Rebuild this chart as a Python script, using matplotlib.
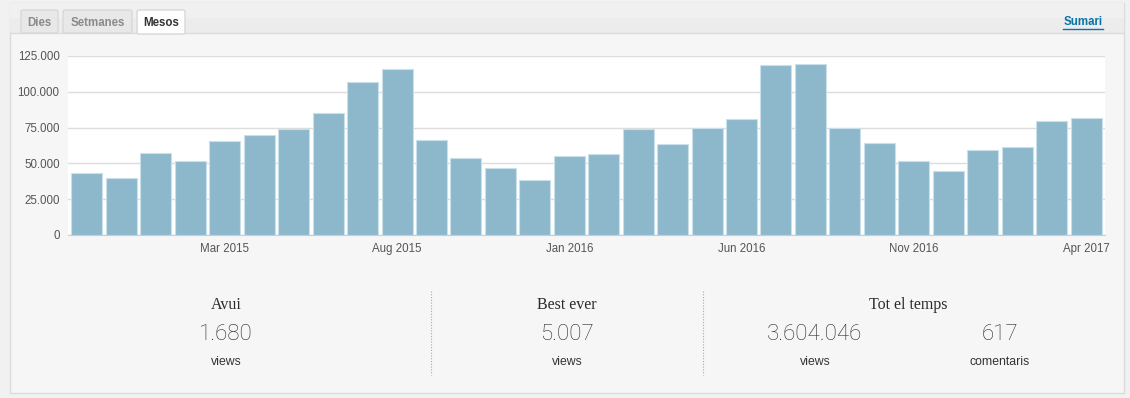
import matplotlib.pyplot as plt
from matplotlib.patches import Rectangle, FancyBboxPatch

# monthly views, Nov 2014 .. Apr 2017
months = ["Nov 2014", "Dec 2014", "Jan 2015", "Feb 2015", "Mar 2015", "Apr 2015",
          "May 2015", "Jun 2015", "Jul 2015", "Aug 2015", "Sep 2015", "Oct 2015",
          "Nov 2015", "Dec 2015", "Jan 2016", "Feb 2016", "Mar 2016", "Apr 2016",
          "May 2016", "Jun 2016", "Jul 2016", "Aug 2016", "Sep 2016", "Oct 2016",
          "Nov 2016", "Dec 2016", "Jan 2017", "Feb 2017", "Mar 2017", "Apr 2017"]
views = [43500, 40000, 57400, 51400, 65700, 69900, 73800, 85200, 106700, 116000,
         66000, 53900, 47000, 38200, 55300, 56700, 74300, 63400, 75000, 80800,
         118800, 119700, 74500, 64400, 51900, 44900, 59500, 61300, 79600, 81700]
shown_ticks = ["Mar 2015", "Aug 2015", "Jan 2016", "Jun 2016", "Nov 2016", "Apr 2017"]
y_ticks = [0, 25000, 50000, 75000, 100000, 125000]

tabs = ["Dies", "Setmanes", "Mesos"]
active_tab = "Mesos"

stat_titles = ["Avui", "Best ever", "Tot el temps"]
stat_values = ["1.680", "5.007", "3.604.046", "617"]
stat_units = ["views", "views", "views", "comentaris"]

W, H = 1130, 398
BAR = "#8db8cc"
SANS = ["Liberation Sans", "DejaVu Sans"]
SERIF = ["Liberation Serif", "DejaVu Serif"]

fig = plt.figure(figsize=(W / 100, H / 100), dpi=100)
fig.patch.set_facecolor("#f1f1f1")

# pixel-space background layer
bg = fig.add_axes([0, 0, 1, 1])
bg.set_xlim(0, W)
bg.set_ylim(H, 0)
bg.axis("off")

bg.add_patch(Rectangle((10, 3), 1114, 390, facecolor="#f6f6f6", edgecolor="#dcdcdc", lw=1))
bg.add_patch(Rectangle((10, 3), 1114, 30, facecolor="#ececec", edgecolor="none"))
bg.add_patch(Rectangle((10, 3), 1114, 15, facecolor="#f0f0f0", edgecolor="none"))
bg.plot([10, 1124], [33, 33], color="#dcdcdc", lw=1)

tab_x = [21, 63, 137]
tab_w = [37, 69, 48]
for name, x, w in zip(tabs, tab_x, tab_w):
    active = name == active_tab
    bg.add_patch(FancyBboxPatch((x, 10), w, 24 if active else 23,
                                boxstyle="round,pad=0,rounding_size=2",
                                facecolor="#ffffff" if active else "#e8e8e8",
                                edgecolor="#d8d8d8", lw=1, zorder=3))
    bg.text(x + w / 2, 22.5, name, ha="center", va="center", fontsize=8.3,
            fontweight="bold", color="#333333" if active else "#8a8a8a",
            family=SANS, zorder=4)

bg.text(1103, 22, "Sumari", ha="right", va="center", fontsize=8.3,
        fontweight="bold", color="#0a74a6", family=SANS)
bg.plot([1063, 1103], [29, 29], color="#0a74a6", lw=1)

# stats
for xs in (431, 703):
    bg.plot([xs, xs], [291, 375], color="#aaaaaa", lw=0.8, ls=(0, (1, 1.5)))

title_x = [226, 567, 908]
for t, x in zip(stat_titles, title_x):
    bg.text(x, 305, t, ha="center", va="center", fontsize=11.5, color="#2b2b2b",
            family=SERIF)

value_x = [226, 567, 815, 1000]
for v, u, x in zip(stat_values, stat_units, value_x):
    bg.text(x, 335, v, ha="center", va="center", fontsize=16, color="#2a2a2a",
            family=["Roboto", "DejaVu Sans"], fontweight="light")
    bg.text(x, 362, u, ha="center", va="center", fontsize=8.8, color="#333333",
            family=SANS)

# bar chart
ax = fig.add_axes([68 / W, 1 - 235 / H, (1105 - 68) / W, (235 - 56) / H])
ax.set_facecolor("#ffffff")
xs = list(range(len(views)))
ax.bar(xs, views, width=0.9, color=BAR, edgecolor="#c9e0ea", linewidth=0.8, zorder=3)
ax.set_xlim(-0.55, len(views) - 0.45)
ax.set_ylim(0, 125000)
ax.set_yticks(y_ticks)
ax.set_yticklabels([f"{v:,}".replace(",", ".") for v in y_ticks])
ax.set_xticks([months.index(m) for m in shown_ticks])
ax.set_xticklabels(shown_ticks)
ax.grid(axis="y", color="#dddddd", lw=1, zorder=0)
for s in ("top", "right", "left"):
    ax.spines[s].set_visible(False)
ax.spines["bottom"].set_color("#cccccc")
ax.tick_params(length=0, labelsize=8.3, labelcolor="#555555", pad=6)
for lab in ax.get_xticklabels() + ax.get_yticklabels():
    lab.set_family(SANS)

fig.savefig("out.png", dpi=100, facecolor=fig.get_facecolor())
